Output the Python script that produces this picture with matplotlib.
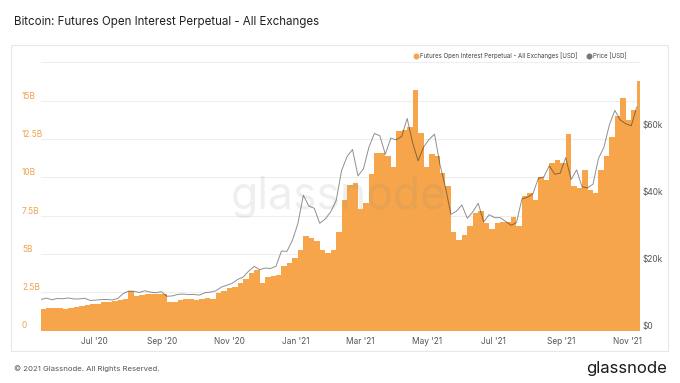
import matplotlib
matplotlib.use("Agg")
import matplotlib.pyplot as plt
from matplotlib.lines import Line2D
from matplotlib.patches import Rectangle
import pandas as pd

plt.rcParams['font.family'] = ['Inter', 'DejaVu Sans']

# 5-day samples, 13 May 2020 -> 9 Nov 2021
datas = pd.date_range('2020-05-13', periods=110, freq='5D')

# open interest perpetual futures (billions USD)
oi_b = [1.42, 1.44, 1.46, 1.46, 1.40, 1.46, 1.53, 1.57, 1.66, 1.70,
        1.74, 1.83, 1.89, 1.94, 2.00, 2.05, 2.55, 2.28, 2.33, 2.36,
        2.40, 2.37, 2.40, 1.85, 1.89, 1.96, 2.05, 2.05, 2.00, 2.05,
        2.10, 2.08, 2.44, 2.61, 2.77, 2.87, 3.09, 3.35, 3.74, 3.96,
        3.09, 3.52, 3.57, 3.63, 4.18, 4.40, 4.72, 5.27, 6.14, 6.03,
        5.81, 5.27, 5.05, 5.27, 6.40, 8.50, 9.50, 9.60, 7.90, 8.30,
        10.2, 11.6, 11.6, 11.4, 10.7, 13.0, 13.1, 13.3, 15.7, 12.9,
        10.7, 11.5, 11.4, 10.3, 9.40, 6.40, 5.90, 6.25, 6.80, 7.70,
        7.80, 7.00, 6.60, 7.00, 7.10, 7.10, 7.40, 6.80, 8.75, 8.97,
        8.53, 10.05, 9.84, 10.93, 11.14, 10.93, 12.8, 9.40, 9.29, 10.49,
        9.18, 8.97, 10.49, 11.36, 12.66, 13.97, 15.2, 13.75, 14.41, 16.3]

# BTC price (thousands USD)
preco_k = [9.3, 9.7, 9.2, 9.6, 9.5, 9.75, 9.45, 9.45, 9.65, 9.0,
           9.1, 9.25, 9.3, 9.15, 9.55, 11.0, 11.8, 11.75, 11.4, 11.9,
           11.5, 11.3, 11.65, 10.25, 10.35, 10.8, 10.9, 10.75, 10.8, 10.6,
           11.3, 11.5, 11.9, 13.0, 13.55, 14.15, 15.3, 16.0, 17.8, 19.2,
           18.2, 18.7, 18.55, 19.25, 23.8, 23.7, 27.0, 32.0, 40.5, 37.3,
           36.6, 32.1, 33.4, 35.5, 38.9, 47.9, 52.1, 54.2, 46.3, 48.4,
           54.9, 59.0, 58.3, 52.8, 57.6, 57.1, 58.1, 63.5, 56.2, 50.8,
           54.9, 57.2, 58.8, 49.7, 42.9, 34.8, 35.7, 37.6, 33.6, 35.5,
           38.1, 32.5, 34.7, 33.8, 33.8, 32.7, 31.5, 32.3, 39.4, 39.9,
           40.9, 45.6, 46.0, 49.3, 46.8, 47.1, 51.8, 45.2, 48.1, 43.0,
           42.7, 43.8, 51.5, 54.9, 61.6, 65.9, 63.0, 61.9, 61.3, 66.9]

meses = pd.date_range('2020-07-01', '2021-11-01', freq='2MS')
meses_txt = [m.strftime("%b '%y") for m in meses]

oi_ticks = [0, 2.5, 5, 7.5, 10, 12.5, 15, 17.5]
oi_txt = ['0', '2.5B', '5B', '7.5B', '10B', '12.5B', '15B', '']
preco_ticks = [0, 20, 40, 60]
preco_txt = ['$0', '$20k', '$40k', '$60k']

laranja = '#f6a54b'
W, H = 680, 383

fig = plt.figure(figsize=(6.8, 3.83), dpi=100)

# moldura cinza clara
fig.patches.append(Rectangle((11 / W, 1 - 351 / H), 657 / W, 306 / H, transform=fig.transFigure,
                             fill=False, edgecolor='#e8e8e8', lw=0.8))

ax = fig.add_axes([41 / W, 1 - 330.5 / H, 599 / W, 269.5 / H])
ax.bar(datas, oi_b, width=5, align='edge', color=laranja, linewidth=0, zorder=2)
ax.set_xlim(pd.Timestamp('2020-05-13'), pd.Timestamp('2021-11-12'))
ax.set_ylim(0, 17.59)
ax.set_yticks(oi_ticks, oi_txt, ha='left', va='bottom')
ax.tick_params(axis='y', length=0, labelsize=6, labelcolor='#f0a24e', pad=13.7)
ax.set_xticks(meses, meses_txt)
ax.tick_params(axis='x', length=0, labelsize=6, labelcolor='#555555', pad=5)
ax.yaxis.grid(True, color='#eeeeee', lw=0.8)
ax.set_axisbelow(True)

ax2 = ax.twinx()
ax2.plot(datas, preco_k, color='#222222', alpha=0.5, lw=0.7, zorder=3)
ax2.set_ylim(0, 80.7)
ax2.set_yticks(preco_ticks, preco_txt, va='bottom')
ax2.tick_params(axis='y', length=0, labelsize=6, labelcolor='#555555', pad=1.5)

for a in (ax, ax2):
    for s in a.spines.values():
        s.set_visible(False)

# marca d'agua
ax2.text(0.497, 0.495, 'glassnode', transform=ax2.transAxes, ha='center', va='center',
         fontsize=32, color='#888888', alpha=0.13, zorder=1)

# legenda
handles = [Line2D([], [], marker='o', ls='', color=laranja, markersize=3.3),
           Line2D([], [], marker='o', ls='', color='#777777', markersize=3.3)]
fig.legend(handles, ['Futures Open Interest Perpetual - All Exchanges [USD]', 'Price [USD]'],
           loc='center right', bbox_to_anchor=(630 / W, 1 - 56 / H), ncol=2, frameon=False,
           fontsize=4.4, handlelength=0.6, handletextpad=0.35, columnspacing=1.7,
           borderpad=0, labelcolor='#444444')

fig.text(14 / W, 1 - 22 / H, 'Bitcoin: Futures Open Interest Perpetual - All Exchanges',
         fontsize=8.3, color='#222222', va='center')
fig.text(14 / W, 1 - 369 / H, '\u00a9 2021 Glassnode. All Rights Reserved.',
         fontsize=5.6, color='#555555', va='center')
fig.text(667 / W, 1 - 368 / H, 'glassnode', fontsize=12, color='#1a1a1a', va='center', ha='right')

fig.savefig('out.png', dpi=100)
